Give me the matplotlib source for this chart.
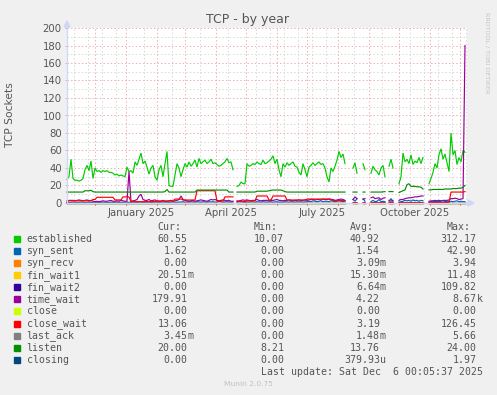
import numpy as np
import matplotlib
matplotlib.use("Agg")
import matplotlib.pyplot as plt
import matplotlib.dates as mdates
from matplotlib.patches import Rectangle, Polygon

nan = np.nan

# ====== data (2-day samples starting 2024-11-03) ======
start_day = np.datetime64("2024-11-03")
end_day = np.datetime64("2025-12-08")
step_days = 2

established = [
    27, 30, 50, 28, 26, 26, 25, 26, 28, 38,
    43, 37, 48, 28, 40, 36, 37, 35, 37, 36,
    37, 35, 35, 34, 32, 33, 31, 32, 31, 30,
    41, 36, 37, 34, 47, 43, 50, 57, 45, 48,
    41, 33, 40, 43, 30, 26, 38, 43, 30, 45,
    59, 20, 19, 19, 32, 45, 40, 30, 38, 45,
    41, 47, 42, 45, 49, 41, 51, 45, 47, 49,
    45, 47, 50, 45, 46, 44, 42, 43, 45, 47,
    51, 46, 47, 38, nan, 19, 20, 24, 22, 22,
    45, 42, 43, 45, 44, 47, 45, 44, 49, 45,
    46, 48, 50, 54, 45, 50, 38, 30, 45, 41,
    46, 43, 45, 47, 42, 41, 35, 32, 45, 38,
    30, 41, 43, 46, 43, 45, 47, 44, 45, 40,
    30, 24, 40, 36, 42, 49, 59, 52, 56, 45,
    nan, nan, nan, 40, 46, 34, nan, nan, 45, 38,
    nan, nan, 34, 42, 38, 36, 32, 40, 43, 30,
    nan, 42, 50, 40, nan, nan, 22, 30, 57, 47,
    50, 45, 55, 44, 48, 46, 52, 45, 52, nan,
    nan, 22, 28, 35, 45, 40, 55, 62, 50, 56,
    46, 36, 80, 55, 60, 44, 52, 47, 60, 58,
]

syn_sent = [
    0.5, 0.5, 0.8, 1, 0.8, 0.6, 0.8, 1, 0.8, 0.6,
    0.8, 1, 0.6, 0.8, 1, 0.8, 0.6, 0.8, 1, 0.8,
    0.8, 0.6, 1, 0.8, 0.8, 1, 0.6, 0.8, 0.8, 1,
    1, 0.8, 0.8, 1.2, 1, 0.8, 1, 1.2, 0.8, 1,
    1, 1.2, 0.8, 1, 1.2, 1, 0.8, 1, 1.2, 1,
    1, 0.8, 1, 1.2, 1, 0.8, 1.2, 1, 1.5, 1,
    1.2, 1, 1.5, 1.2, 1, 1.5, 1.2, 1, 1.5, 1.2,
    1, 1.5, 1.2, 1.5, 1, 1.2, 2, 1.5, 1, 1.2,
    1.5, 1.2, 1, 1.5, nan, 1, 2.5, 2, 1.5, 1,
    1.2, 1, 1.5, 1.2, 1, 1.5, 1.2, 1, 1.5, 1.2,
    1, 1.2, 1.5, 1, 1.2, 1.5, 1, 1.2, 1, 1.5,
    1.2, 1, 1.5, 1.2, 1, 1.5, 1.2, 1.5, 1, 1.2,
    1.5, 2, 1.5, 2.5, 2, 1.5, 2, 2.5, 1.5, 2,
    2, 1.5, 2.5, 2, 1.5, 2, 2.5, 2, 1.5, 2,
    nan, nan, nan, 4, 2, 5, nan, nan, 5, 2,
    nan, nan, 1.5, 3, 1.5, 2, 4, 1.5, 2, 1.5,
    nan, 2, 5, 1.5, nan, nan, 1, 1.5, 2, 3,
    2.5, 3, 2, 3.5, 2.5, 3, 2, 3, 2.5, nan,
    nan, 1, 1.5, 2, 1.5, 2, 1.5, 2, 2.5, 1.5,
    2, 1.5, 2, 1.5, 2, 2.5, 1.5, 2, 1.5, 1.6,
]

time_wait = [
    1, 3, 3, 3, 2.5, 3, 3.5, 3, 2.5, 3,
    3.5, 2.5, 3, 2, 1.5, 2, 1.5, 2, 2.5, 2,
    2, 2.5, 3, 2, 2, 2.5, 2, 3, 2.5, 2,
    2, 36, 2, 2.5, 3, 4, 8, 10, 4, 3,
    3, 4, 2.5, 3, 3.5, 2.5, 2, 2, 3, 2,
    2, 2.5, 3, 2, 2.5, 3, 4, 8, 4, 3,
    2.5, 2, 2.5, 3, 2, 2.5, 3, 3.5, 3, 2.5,
    2, 3, 4, 3.5, 4, 3, 2.5, 3, 3.5, 3,
    2.5, 3, 2, 2, nan, 2.5, 2, 3, 3.5, 3,
    3.5, 3, 2.5, 3, 3, 4, 3, 2.5, 3, 3,
    3, 2.5, 3, 3, 3.5, 4, 3, 3, 2.5, 3,
    3, 3.5, 3, 2.5, 3, 3, 3.5, 3, 3, 3.5,
    3, 3.5, 4, 4, 3.5, 4, 4, 3.5, 4.5, 4,
    4, 4.5, 3.5, 4, 3, 3.5, 4, 4.5, 4, 3,
    nan, nan, nan, 4, 7, 5, nan, nan, 4, 5,
    nan, nan, 6, 7, 5, 5.5, 6, 4, 5.5, 6,
    nan, 3, 2, 3, nan, nan, 3, 4, 4, 5,
    5.5, 6, 6, 6.5, 7, 7, 7.5, 8, 8, nan,
    nan, 2, 2.5, 2.5, 3, 2.5, 3, 2.5, 3, 3,
    3, 3.5, 5, 5, 5.5, 5, 4, 4.5, 5, 180,
]

close_wait = [
    2.5, 2.5, 2.5, 2.5, 2.5, 2.5, 2.5, 2.5, 2.5, 2.5,
    2.5, 2.5, 2.5, 4, 4, 6.5, 6.5, 6.5, 6.5, 6.5,
    6.5, 6.5, 6.5, 6.5, 3.5, 3.5, 3.5, 3.5, 7, 7,
    7, 7, 1.5, 1.5, 1.5, 1.5, 1.5, 1.5, 1.5, 1.5,
    1.5, 1.5, 1.5, 1.5, 1.5, 2.3, 2.3, 2.3, 2.3, 2.3,
    2.3, 2.3, 2.3, 2.3, 4.5, 4.5, 4.5, 4.5, 3.4, 3.4,
    3.4, 3.4, 3.4, 3.4, 3.4, 14, 14, 14, 14, 14,
    14, 14, 14, 14, 14, 2.3, 2.3, 2.3, 2.3, 7,
    7, 7, 7, 7, nan, 1.5, 1.5, 1.5, 1.5, 1.5,
    2.5, 2.5, 2.5, 2.5, 2.5, 8, 8, 8, 8, 8,
    8, 3.4, 3.4, 8, 8, 8, 8, 8, 8, 8,
    3.4, 3.4, 3.4, 3.4, 3.4, 3.4, 3.4, 3.4, 3.4, 3.4,
    4.5, 4.5, 4.5, 4.5, 4.5, 4.5, 4.5, 4.5, 4.5, 4.5,
    4.5, 4.5, 4.5, 2.7, 2.7, 2.7, 2.7, 2.7, 2.7, 2.7,
    nan, nan, nan, 0.5, 0.5, 0.5, nan, nan, 0.5, 0.5,
    nan, nan, 0.5, 0.5, 0.5, 0.5, 0.5, 0.5, 0.5, 0.5,
    nan, 0.5, 0.5, 0.5, nan, nan, 0.5, 0.5, 0.5, 0.5,
    0.5, 0.5, 0.5, 0.5, 0.5, 0.5, 0.5, 0.5, 0.5, nan,
    nan, 0.5, 0.5, 0.5, 0.5, 0.5, 0.5, 0.5, 0.5, 0.5,
    0.5, 0.5, 12.5, 12.5, 12.5, 12.5, 12.5, 12.5, 12.5, 13,
]

listen = [
    12.5, 12.5, 12.5, 12.5, 12.5, 12.5, 12.5, 12.5, 12.5, 14,
    14, 14, 14.5, 13, 12.5, 12.5, 12.5, 12.5, 12.5, 12.5,
    12.5, 12.5, 12.5, 12.5, 12.5, 12.5, 12.5, 12.5, 12.5, 12.5,
    12.5, 12.5, 12.5, 12.5, 12.5, 12.5, 12.5, 12.5, 12.5, 12.5,
    12.5, 12.5, 12.5, 12.5, 12.5, 12.5, 12.5, 12.5, 12.5, 13,
    15.5, 12.5, 12.5, 12.5, 12.5, 12.5, 12.5, 12.5, 12.5, 12.5,
    12.5, 12.5, 12.5, 12.5, 12.5, 14.8, 14.8, 14.8, 14.8, 14.8,
    14.8, 14.8, 14.8, 14.8, 14.8, 14.8, 14.8, 14.8, 14.8, 14.8,
    14.8, 12.5, 12.5, 12.5, nan, 12.5, 12.5, 12.5, 12.5, 12.5,
    12.5, 12.5, 12.5, 12.5, 12.5, 13.5, 13.5, 13.5, 13.5, 13.5,
    13.5, 14, 14.5, 14.8, 14.8, 14.8, 14.8, 14.8, 14, 13,
    12.5, 12.5, 12.5, 12.5, 12.5, 12.5, 12.5, 12.5, 12.5, 12.5,
    12.5, 12.5, 12.5, 12.5, 12.5, 12.5, 12.5, 12.5, 12.5, 12.5,
    12.5, 12.5, 12.5, 12.5, 12.5, 12.5, 12.5, 12.5, 12.5, 12.5,
    nan, nan, nan, 12.5, 12.5, 12.5, nan, nan, 12.5, 12.5,
    nan, nan, 12.5, 12.5, 12.5, 12.5, 12.5, 12.5, 12.8, 13,
    nan, 13, 13, 13, nan, nan, 12, 13, 14, 15,
    21, 22, 19, 19, 19, 18.5, 18.5, 18, 16, nan,
    nan, 15, 15, 15.5, 15.5, 15.5, 15.5, 15.5, 15.5, 16,
    16, 16, 16, 16.5, 16.5, 16.5, 17, 17, 18, 20,
]

# series that stay at zero on this scale
flat_zero = [0.0] * len(established)

names = ["established", "syn_sent", "syn_recv", "fin_wait1", "fin_wait2",
         "time_wait", "close", "close_wait", "last_ack", "listen", "closing"]
colors = ["#00CC00", "#0066B3", "#FF8000", "#FFCC00", "#330099",
          "#990099", "#CCFF00", "#FF0000", "#808080", "#008F00", "#00487D"]
cur_vals = ["60.55", "1.62", "0.00", "20.51m", "0.00", "179.91",
            "0.00", "13.06", "3.45m", "20.00", "0.00"]
min_vals = ["10.07", "0.00", "0.00", "0.00", "0.00", "0.00",
            "0.00", "0.00", "0.00", "8.21", "0.00"]
avg_vals = ["40.92", "1.54", "3.09m", "15.30m", "6.64m", "4.22",
            "0.00", "3.19", "1.48m", "13.76", "379.93u"]
max_vals = ["312.17", "42.90", "3.94", "11.48", "109.82", "8.67k",
            "0.00", "126.45", "5.66", "24.00", "1.97"]

month_labels = ["January 2025", "April 2025", "July 2025", "October 2025"]
label_months = ["2025-01", "2025-04", "2025-07", "2025-10"]

# ====== figure ======
W, H = 497, 395
BACK = "#F0F0F0"
FONT = "#555555"
AXIS = "#CFD6F8"
MGRID = "#F0B0B0"
GRID = "#D8D8D8"

def fx(x):
    return x / W

def fy(y):
    return 1 - y / H

fig = plt.figure(figsize=(W / 100, H / 100), dpi=100, facecolor=BACK)
ax = fig.add_axes([fx(67), fy(203), 400 / W, 175 / H])
ax.set_facecolor("white")

gap = np.isnan(np.array(established, dtype=float))
zero = np.array(flat_zero)
zero[gap] = nan

x = start_day + np.arange(len(established)) * np.timedelta64(step_days, "D")
series = [established, syn_sent, zero, zero, zero, time_wait, zero,
          close_wait, zero, listen, zero]

dash = (0, (1.4, 2.2))
for v in range(20, 201, 20):
    ax.axhline(v, color=MGRID, lw=0.72, ls=dash, zorder=1)
for v in range(10, 200, 20):
    ax.axhline(v, color=GRID, lw=0.72, ls=dash, zorder=0.9)

months = np.arange("2024-12", "2026-01", dtype="datetime64[M]").astype("datetime64[D]")
for d in np.arange(np.datetime64("2024-11-10"), end_day, np.timedelta64(14, "D")):
    if np.min(np.abs((months - d).astype(int))) > 4:
        ax.axvline(mdates.date2num(d), color=GRID, lw=0.72, ls=dash, zorder=0.9)
for d in months:
    ax.axvline(mdates.date2num(d), color=MGRID, lw=0.72, ls=dash, zorder=1)

for vals, col in zip(series, colors):
    ax.plot(x, np.array(vals, dtype=float), color=col, lw=0.85, zorder=3,
            clip_on=False, solid_joinstyle="miter")

ax.set_xlim(start_day, end_day)
ax.set_ylim(0, 200)
for s in ax.spines.values():
    s.set_visible(False)

mid = []
for m in label_months:
    m0 = np.datetime64(m).astype("datetime64[D]")
    m1 = (np.datetime64(m) + 1).astype("datetime64[D]")
    mid.append(mdates.date2num(m0) + (m1 - m0).astype(int) / 2)
ax.set_xticks(mid)
ax.set_xticklabels(month_labels)
ax.set_yticks(range(0, 201, 20))
ax.tick_params(axis="x", length=0, pad=3.5, labelsize=7.3, labelcolor=FONT)
ax.tick_params(axis="y", length=1.5, width=0.7, color="#C0C0C0", pad=2.2,
               labelsize=7.3, labelcolor=FONT)

# month ticks below the x axis
for d in months:
    xd = mdates.date2num(d)
    ax.plot([xd, xd], [0, -2.5], color="#F08080", lw=0.7, clip_on=False, zorder=2)

# axes with arrows
fig.add_artist(plt.Line2D([fx(67), fx(67)], [fy(203), fy(25)], color=AXIS, lw=0.9))
fig.add_artist(plt.Line2D([fx(67), fx(470)], [fy(203), fy(203)], color=AXIS, lw=0.9))
fig.add_artist(Polygon([[fx(64), fy(27)], [fx(70), fy(27)], [fx(67), fy(21)]],
                       closed=True, color=AXIS, transform=fig.transFigure))
fig.add_artist(Polygon([[fx(468), fy(200)], [fx(468), fy(206)], [fx(474), fy(203)]],
                       closed=True, color=AXIS, transform=fig.transFigure))

fig.text(fx(248), fy(19), "TCP - by year", ha="center", va="center",
         fontsize=9, color=FONT)
fig.text(fx(10), fy(115), "TCP Sockets", ha="center", va="center",
         rotation=90, fontsize=7.7, color=FONT)
fig.text(fx(487), fy(53), "RRDTOOL / TOBI OETIKER", ha="center", va="center",
         rotation=270, fontsize=4.6, color="#C4C4C4")

# legend table
mono = "DejaVu Sans Mono"
lsize = 7.1
cols_right = [187.7, 284, 380, 476.7]
heads = ["Cur:", "Min:", "Avg:", "Max:"]
for xr, hd in zip(cols_right, heads):
    fig.text(fx(xr - 6.5), fy(227.3), hd, ha="right", va="center",
             family=mono, fontsize=lsize, color=FONT)

for i, name in enumerate(names):
    yy = 239.3 + 12.03 * i
    fig.add_artist(Rectangle((fx(14), fy(yy + 3)), 6 / W, 6 / H,
                             transform=fig.transFigure, color=colors[i]))
    fig.text(fx(26.5), fy(yy), name, ha="left", va="center",
             family=mono, fontsize=lsize, color=FONT)
    for xr, col in zip(cols_right, [cur_vals, min_vals, avg_vals, max_vals]):
        s = col[i]
        num, suf = (s[:-1], s[-1]) if s[-1].isalpha() else (s, "")
        fig.text(fx(xr), fy(yy), num, ha="right", va="center",
                 family=mono, fontsize=lsize, color=FONT)
        if suf:
            fig.text(fx(xr), fy(yy), suf, ha="left", va="center",
                     family=mono, fontsize=lsize, color=FONT)

fig.text(fx(482.7), fy(371.7), "Last update: Sat Dec  6 00:05:37 2025",
         ha="right", va="center", family=mono, fontsize=lsize, color=FONT)
fig.text(fx(248), fy(384), "Munin 2.0.75", ha="center", va="center",
         fontsize=5.4, color="#C0C0C0")

fig.savefig("out.png", dpi=100, facecolor=BACK)
